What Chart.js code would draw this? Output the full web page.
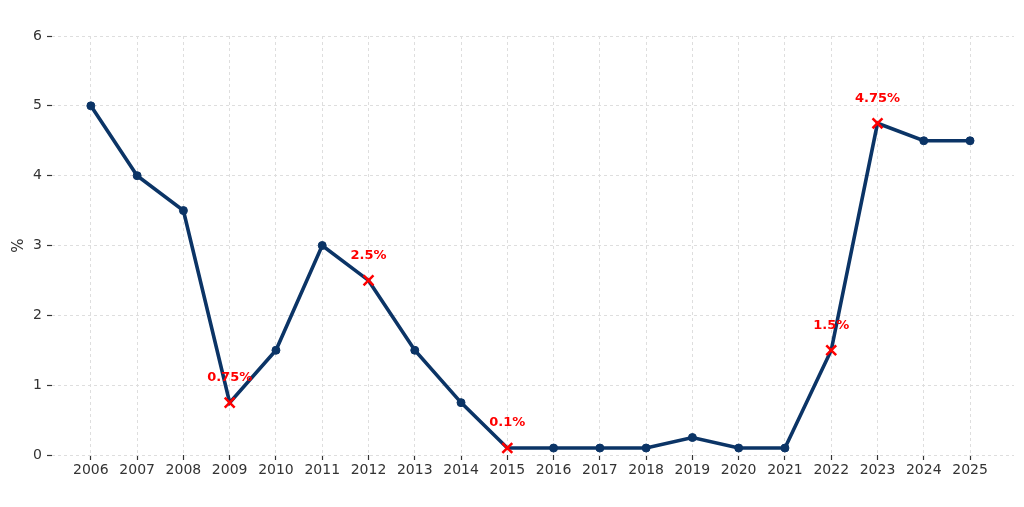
<!DOCTYPE html>
<html><head><meta charset="utf-8">
<script src="https://cdn.jsdelivr.net/npm/chart.js@4/dist/chart.umd.min.js"></script>
<style>html,body{margin:0;padding:0;background:#fff}#wrap{width:1024px;height:507px}</style>
</head><body><div id="wrap"><canvas id="c" width="1024" height="507"></canvas></div>
<script>
const years = [2006,2007,2008,2009,2010,2011,2012,2013,2014,2015,2016,2017,2018,2019,2020,2021,2022,2023,2024,2025];
const rates = [5,4,3.5,0.75,1.5,3,2.5,1.5,0.75,0.1,0.1,0.1,0.1,0.25,0.1,0.1,1.5,4.75,4.5,4.5];
const highlightYears = [2009,2012,2015,2022,2023];
const highlightLabels = ['0.75%','2.5%','0.1%','1.5%','4.75%'];
const yTicks = [0,1,2,3,4,5,6];

const NAVY = '#0b3466';
const RED = '#ff0000';
const FONT = "'DejaVu Sans', sans-serif";

const labelPlugin = {
  id: 'hlLabels',
  afterDatasetsDraw(chart) {
    const ctx = chart.ctx, xs = chart.scales.x, ys = chart.scales.y;
    ctx.save();
    ctx.fillStyle = RED;
    ctx.font = "bold 13px " + FONT;
    ctx.textAlign = 'center';
    ctx.textBaseline = 'middle';
    highlightYears.forEach((yr, i) => {
      const v = rates[years.indexOf(yr)];
      ctx.fillText(highlightLabels[i], xs.getPixelForValue(yr), ys.getPixelForValue(v) - 25);
    });
    ctx.restore();
  }
};

new Chart(document.getElementById('c'), {
  type: 'line',
  data: {
    datasets: [{
      data: years.map((y, i) => ({x: y, y: rates[i]})),
      borderColor: NAVY,
      backgroundColor: NAVY,
      borderWidth: 3.6,
      tension: 0,
      pointStyle: years.map(y => highlightYears.includes(y) ? 'crossRot' : 'circle'),
      pointRadius: years.map(y => highlightYears.includes(y) ? 7 : 4),
      pointBorderColor: years.map(y => highlightYears.includes(y) ? RED : NAVY),
      pointBackgroundColor: years.map(y => highlightYears.includes(y) ? RED : NAVY),
      pointBorderWidth: years.map(y => highlightYears.includes(y) ? 2.5 : 1),
      clip: false
    }]
  },
  options: {
    responsive: false,
    animation: false,
    layout: {padding: {top: 36, right: 10, left: 0, bottom: 0}},
    plugins: {legend: {display: false}, tooltip: {enabled: false}},
    scales: {
      x: {
        type: 'linear',
        min: 2005.16,
        max: 2025.95,
        afterBuildTicks: s => { s.ticks = years.map(v => ({value: v})); },
        afterFit: s => { s.height = 52; },
        ticks: {
          autoSkip: false, maxRotation: 0, padding: 2,
          color: '#333', font: {family: FONT, size: 14},
          callback: v => String(v)
        },
        grid: {color: '#dedede', tickColor: '#333', tickLength: 5, tickWidth: 1.2, lineWidth: 1},
        border: {display: false, dash: [3, 3]}
      },
      y: {
        min: 0, max: 6,
        afterBuildTicks: s => { s.ticks = yTicks.map(v => ({value: v})); },
        afterFit: s => { s.width = 52; },
        ticks: {color: '#333', font: {family: FONT, size: 14}, padding: 5},
        grid: {color: '#dedede', tickColor: '#333', tickLength: 5, tickWidth: 1.2, lineWidth: 1},
        border: {display: false, dash: [3, 3]},
        title: {display: true, text: '%', color: '#333', font: {family: FONT, size: 15}, padding: {top: 10, bottom: 2}}
      }
    }
  },
  plugins: [labelPlugin]
});
</script></body></html>
